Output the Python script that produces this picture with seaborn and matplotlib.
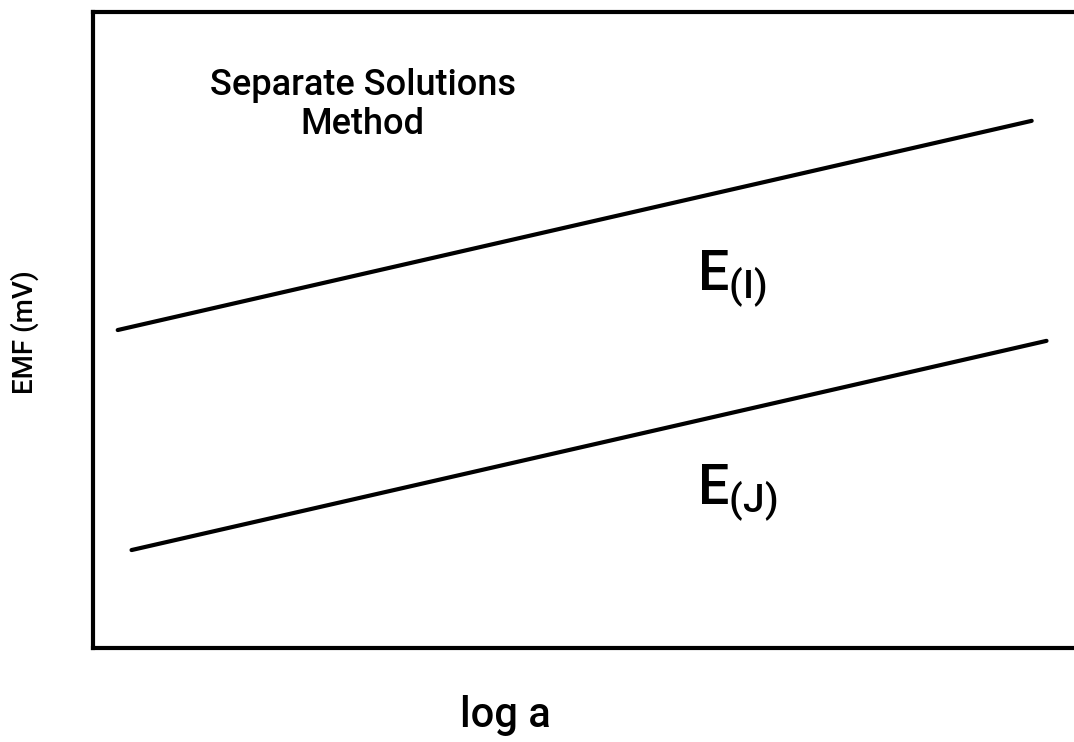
import pandas as pd
import matplotlib.pyplot as plt
import seaborn as sns

# schematic data (arbitrary units)
log_a_i = [0.25, 9.5]
emf_i = [5.0, 8.29]
log_a_j = [0.39, 9.65]
emf_j = [1.54, 4.83]

sns.set_style('white')
plt.rcParams['font.family'] = ['Roboto', 'DejaVu Sans']
plt.rcParams['font.weight'] = 'medium'
plt.rcParams['text.color'] = 'black'
plt.rcParams['axes.labelcolor'] = 'black'
plt.rcParams['mathtext.fontset'] = 'custom'
plt.rcParams['mathtext.rm'] = 'Roboto:medium'
plt.rcParams['mathtext.it'] = 'Roboto:medium'

data = pd.DataFrame({
    'log a': log_a_i + log_a_j,
    'EMF': emf_i + emf_j,
    'series': ['I', 'I', 'J', 'J'],
})

fig = plt.figure(figsize=(10.74, 7.42), dpi=100)
ax = fig.add_axes([0.0866, 0.1267, 0.92, 0.857])
sns.lineplot(data=data, x='log a', y='EMF', units='series', estimator=None,
             color='black', linewidth=3.0, ax=ax)

ax.set_xlim(0, 10)
ax.set_ylim(0, 10)
ax.set_xticks([])
ax.set_yticks([])
ax.set_xlabel('')
ax.set_ylabel('')
for side in ['left', 'top', 'bottom']:
    ax.spines[side].set_linewidth(3.0)
    ax.spines[side].set_color('black')
ax.spines['right'].set_visible(False)

fig.text(505 / 1074, 1 - 715 / 742, 'log a', fontsize=30,
         ha='center', va='center')
fig.text(25 / 1074, 1 - 332 / 742, 'EMF (mV)', fontsize=20,
         ha='center', va='center', rotation=90)

ax.text(2.73, 8.54, 'Separate Solutions\nMethod', fontsize=26,
        ha='center', va='center', linespacing=1.15)
ax.text(6.11, 5.63, r'E$_{\mathrm{(I)}}$', fontsize=40, ha='left', va='baseline')
ax.text(6.11, 2.25, r'E$_{\mathrm{(J)}}$', fontsize=40, ha='left', va='baseline')

plt.savefig('out.png', dpi=100)
plt.close()
